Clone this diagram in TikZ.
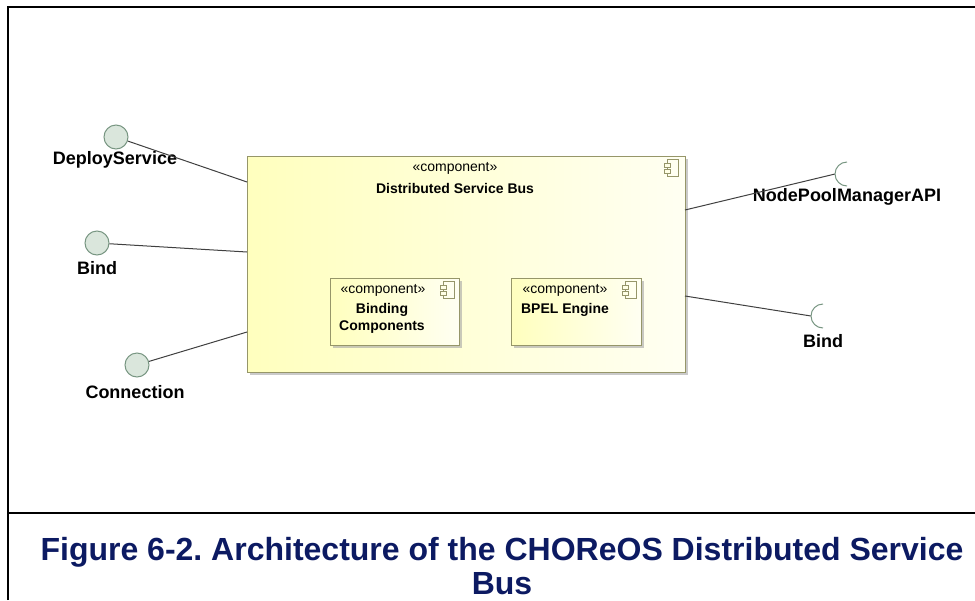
\documentclass[tikz,border=0pt]{standalone}
\usepackage{fontspec}
\setmainfont{Liberation Sans}
\usetikzlibrary{shadows}
\frenchspacing

\definecolor{boxline}{RGB}{150,150,105}
\definecolor{boxfill}{RGB}{255,255,190}
\definecolor{ifcline}{RGB}{120,150,130}
\definecolor{ifcfill}{RGB}{218,230,220}
\definecolor{capblue}{RGB}{12,26,98}

\tikzset{
  comp/.style={draw=boxline, line width=1pt, anchor=north west, inner sep=0pt,
    left color=boxfill, right color=boxfill!20,
    drop shadow={shadow xshift=2.5pt, shadow yshift=-2.5pt, fill=gray!70, opacity=.6}},
  stereo/.style={font=\fontsize{14}{17}\selectfont, inner sep=0pt},
  cname/.style={font=\fontsize{14}{17}\selectfont\bfseries, inner sep=0pt, align=center},
  provided/.style={circle, draw=ifcline, line width=1pt, fill=ifcfill, minimum size=24pt, inner sep=0pt},
  ilabel/.style={font=\fontsize{18}{21}\selectfont\bfseries, inner sep=0pt},
  conn/.style={draw=black!75, line width=1pt},
  socket/.style={draw=ifcline, line width=1pt},
  frame/.style={line width=2pt},
  compicon/.pic={
    \draw[draw=boxline, line width=.8pt] (-4,-8.5) rectangle (7,8.5);
    \draw[draw=boxline, line width=.8pt, fill=boxfill!40] (-7,-5) rectangle (-1,-1);
    \draw[draw=boxline, line width=.8pt, fill=boxfill!40] (-7,1) rectangle (-1,5);
  }
}

\begin{document}
\begin{tikzpicture}[x=1pt,y=-1pt]
  \useasboundingbox (0,0) rectangle (975,600);
  % page frame
  \draw[frame] (8,600) -- (8,7) -- (975,7);
  \draw[frame] (8,513) -- (975,513);

  % components
  \node[comp, minimum width=438pt, minimum height=216pt] (dsb) at (247,156) {};
  \node[stereo] (dsbst) at (455,168) {«component»};
  \node[cname] (dsbname) at (455,188) {Distributed Service Bus};
  \pic at (671,168) {compicon};

  \node[comp, minimum width=129pt, minimum height=67pt] (bc) at (330,278) {};
  \node[stereo] (bcst) at (383,290) {«component»};
  \node[cname] (bcname) at (382,318) {Binding\\Components};
  \pic at (447,290) {compicon};

  \node[comp, minimum width=130pt, minimum height=67pt] (bpel) at (511,278) {};
  \node[stereo] (bpelst) at (565,290) {«component»};
  \node[cname] (bpelname) at (565,310) {BPEL Engine};
  \pic at (629,290) {compicon};

  % provided interfaces
  \node[provided] (deploy) at (116,137) {};
  \node[ilabel] (deploylbl) at (115,160) {DeployService};
  \node[provided] (bindl) at (97,243) {};
  \node[ilabel] (bindllbl) at (97,268) {Bind};
  \node[provided] (connect) at (137,365) {};
  \node[ilabel] (connectlbl) at (135,392) {Connection};

  % required interfaces
  \coordinate (npm) at (835,174);
  \node[ilabel] (npmlbl) at (847,197) {NodePoolManagerAPI};
  \coordinate (bindr) at (811,316);
  \node[ilabel] (bindrlbl) at (823,341) {Bind};

  % ports on the bus
  \coordinate (e1) at (247,182);
  \coordinate (e2) at (247,252);
  \coordinate (e3) at (247,332);
  \coordinate (e4) at (685,210);
  \coordinate (e5) at (685,296);

  \foreach \from/\to in {deploy/e1, bindl/e2, connect/e3, e4/npm, e5/bindr}
    \draw[conn] (\from) -- (\to);

  \foreach \s in {npm, bindr}
    \draw[socket] (\s) arc[start angle=180, end angle=90, radius=12]
                  (\s) arc[start angle=180, end angle=270, radius=12];

  % caption
  \node[font=\fontsize{32}{34}\selectfont\bfseries, text=capblue, align=center] (cap)
    at (502,566) {Figure 6-2. Architecture of the CHOReOS Distributed Service\\Bus};
\end{tikzpicture}
\end{document}
